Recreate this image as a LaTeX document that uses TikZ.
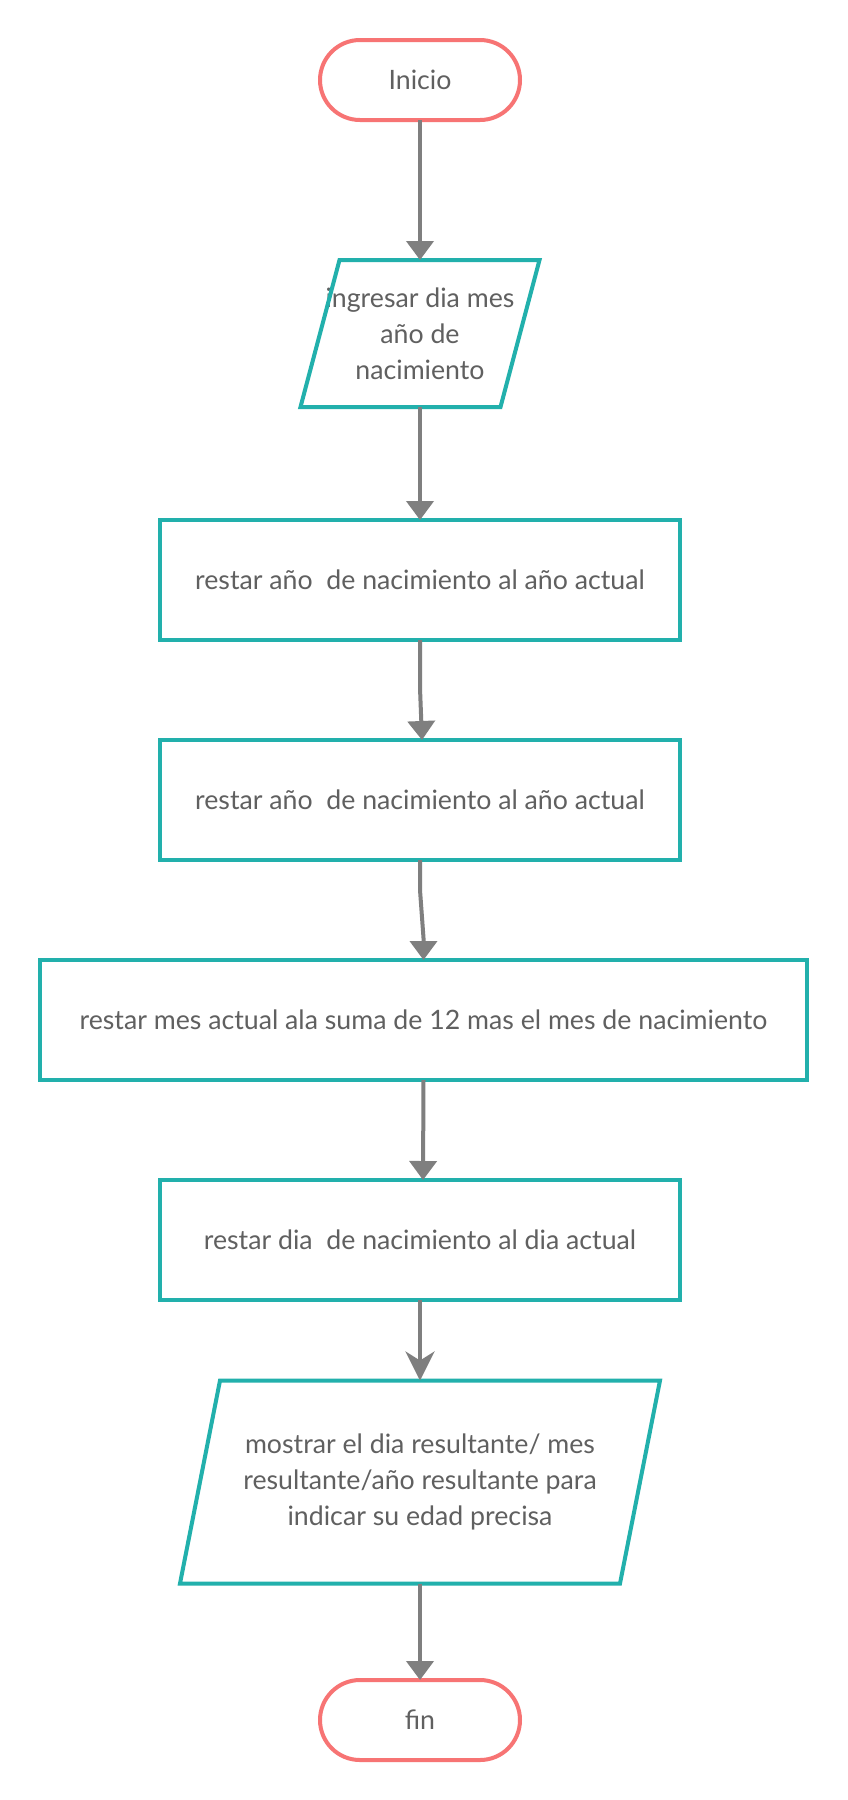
\documentclass[tikz,border=0pt]{standalone}
\usepackage{fontspec}
\setmainfont{Lato}
\usetikzlibrary{arrows.meta}
\definecolor{tealc}{HTML}{22B0AC}
\definecolor{pinkc}{HTML}{F77474}
\definecolor{arrc}{HTML}{7F7F7F}
\definecolor{txtc}{HTML}{606060}
\begin{document}
\begin{tikzpicture}[x=1pt,y=-1pt,
  every node/.style={font=\fontsize{26.7}{36}\selectfont, text=txtc},
  term/.style={draw=pinkc, line width=4pt, rounded corners=40pt, minimum width=200pt, minimum height=80pt, inner sep=0pt, outer sep=0pt},
  proc/.style={draw=tealc, line width=4pt, minimum height=120pt, inner sep=0pt, outer sep=0pt},
  iobox/.style={inner sep=0pt, outer sep=0pt, align=center},
  ioline/.style={draw=tealc, line width=4pt, line join=miter},
  conn/.style={draw=arrc, line width=4pt, -{Triangle[width=27pt,length=19pt]}},
  conns/.style={draw=arrc, line width=4pt, -{Stealth[width=29pt,length=29pt,inset=9pt]}},
]
\useasboundingbox (0,0) rectangle (848,1800);
\fill[white] (0,0) rectangle (848,1800);

\node[term] (start) at (420,80) {Inicio};
\node[iobox, minimum width=200pt, minimum height=147pt] (in1) at (420,333.5) {ingresar dia mes\\año de\\nacimiento};
\draw[ioline] ([xshift=19.5pt]in1.north west) -- ([xshift=19.5pt]in1.north east) -- ([xshift=-19.5pt]in1.south east) -- ([xshift=-19.5pt]in1.south west) -- cycle;
\node[proc, minimum width=520pt] (b1) at (420,580) {restar año\ \ de nacimiento al año actual};
\node[proc, minimum width=520pt] (b2) at (420,800) {restar año\ \ de nacimiento al año actual};
\node[proc, minimum width=767pt] (b3) at (423.5,1020) {restar mes actual ala suma de 12 mas el mes de nacimiento};
\node[proc, minimum width=520pt] (b4) at (420,1240) {restar dia\ \ de nacimiento al dia actual};
\node[iobox, minimum width=440pt, minimum height=203pt] (in2) at (420,1482) {mostrar el dia resultante/ mes\\resultante/año resultante para\\indicar su edad precisa};
\draw[ioline] ([xshift=20pt]in2.north west) -- ([xshift=20pt]in2.north east) -- ([xshift=-20pt]in2.south east) -- ([xshift=-20pt]in2.south west) -- cycle;
\node[term] (end) at (420,1720) {fin};

\draw[conn] (start.south) -- (in1.north);
\draw[conn] (in1.south) -- (b1.north);
\draw[conn] (b1.south) -- ++(0,48) -- ([xshift=2pt]b2.north);
\draw[conn] (b2.south) -- ++(0,30) -- ++(3.5,48) -- (b3.north);
\draw[conn] (b3.south) -- ([xshift=3pt]b4.north);
\draw[conns] (b4.south) -- (in2.north);
\draw[conn] (in2.south) -- (end.north);
\end{tikzpicture}
\end{document}
